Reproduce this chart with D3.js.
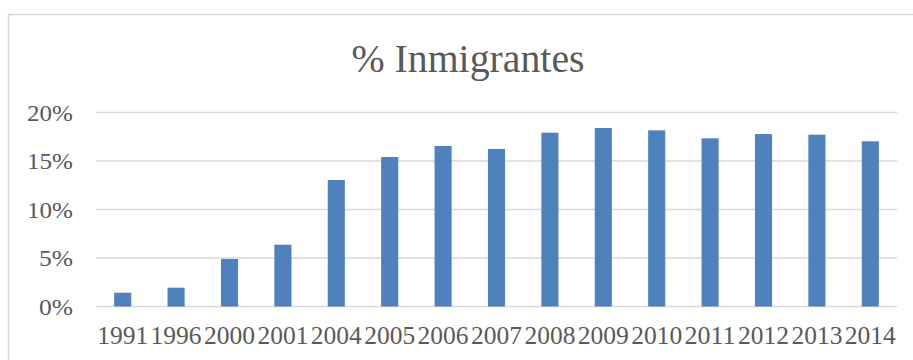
<!DOCTYPE html>
<html>
<head>
<meta charset="utf-8">
<script src="https://cdn.jsdelivr.net/npm/d3@7/dist/d3.min.js"></script>
<style>
  html, body { margin: 0; padding: 0; background: #fff; }
  svg { display: block; }
  text { font-family: "Liberation Serif", "DejaVu Serif", serif; fill: #595959; }
</style>
</head>
<body>
<svg id="chart" width="913" height="360"></svg>
<script>
const title = "% Inmigrantes";
const years = ["1991","1996","2000","2001","2004","2005","2006","2007","2008","2009","2010","2011","2012","2013","2014"];
const values = [0.0142,0.0194,0.049,0.0637,0.1304,0.1541,0.1655,0.1624,0.1792,0.184,0.1816,0.1734,0.1778,0.1771,0.1703];
const yTicks = [0, 0.05, 0.10, 0.15, 0.20];

const svg = d3.select("#chart");
const W = 913, H = 360;
const plot = { left: 96, right: 897, top: 112.5, bottom: 306.5 };

// chart border
svg.append("rect")
  .attr("x", 8.5).attr("y", 14.5)
  .attr("width", W + 10).attr("height", H + 10)
  .attr("fill", "none").attr("stroke", "#D9D9D9").attr("stroke-width", 1.5);

const x = d3.scaleBand().domain(years).range([plot.left, plot.right]).paddingInner(0.68).paddingOuter(0.34);
const y = d3.scaleLinear().domain([0, 0.20]).range([plot.bottom, plot.top]);

// gridlines
svg.append("g").selectAll("line").data(yTicks).join("line")
  .attr("x1", plot.left).attr("x2", plot.right)
  .attr("y1", d => y(d)).attr("y2", d => y(d))
  .attr("stroke", "#D9D9D9").attr("stroke-width", 1.3);

// y axis labels
const yAxis = d3.axisLeft(y).tickValues(yTicks).tickFormat(d3.format(".0%")).tickSize(0).tickPadding(0);
const gy = svg.append("g").attr("transform", `translate(73,0)`).call(yAxis);
gy.select(".domain").remove();
gy.selectAll("text").attr("font-size", 24).attr("fill", "#595959")
  .attr("font-family", "Liberation Serif, DejaVu Serif, serif")
  .attr("textLength", d => d >= 0.1 ? 46 : 34)
  .attr("lengthAdjust", "spacingAndGlyphs");

// bars
svg.append("g").selectAll("rect").data(years).join("rect")
  .attr("x", d => x(d))
  .attr("width", x.bandwidth())
  .attr("y", (d, i) => y(values[i]))
  .attr("height", (d, i) => y(0) - y(values[i]))
  .attr("fill", "#4F81BD");

// x axis labels
const xAxis = d3.axisBottom(x).tickSize(0).tickPadding(0);
const gx = svg.append("g").attr("transform", `translate(0,327)`).call(xAxis);
gx.select(".domain").remove();
gx.selectAll("text").attr("font-size", 24.5).attr("fill", "#595959")
  .attr("font-family", "Liberation Serif, DejaVu Serif, serif")
  .attr("textLength", 51)
  .attr("lengthAdjust", "spacingAndGlyphs");

// title
svg.append("text")
  .attr("x", 468)
  .attr("y", 71.5)
  .attr("text-anchor", "middle")
  .attr("font-size", 39)
  .attr("textLength", 233)
  .attr("lengthAdjust", "spacingAndGlyphs")
  .text(title);
</script>
</body>
</html>
